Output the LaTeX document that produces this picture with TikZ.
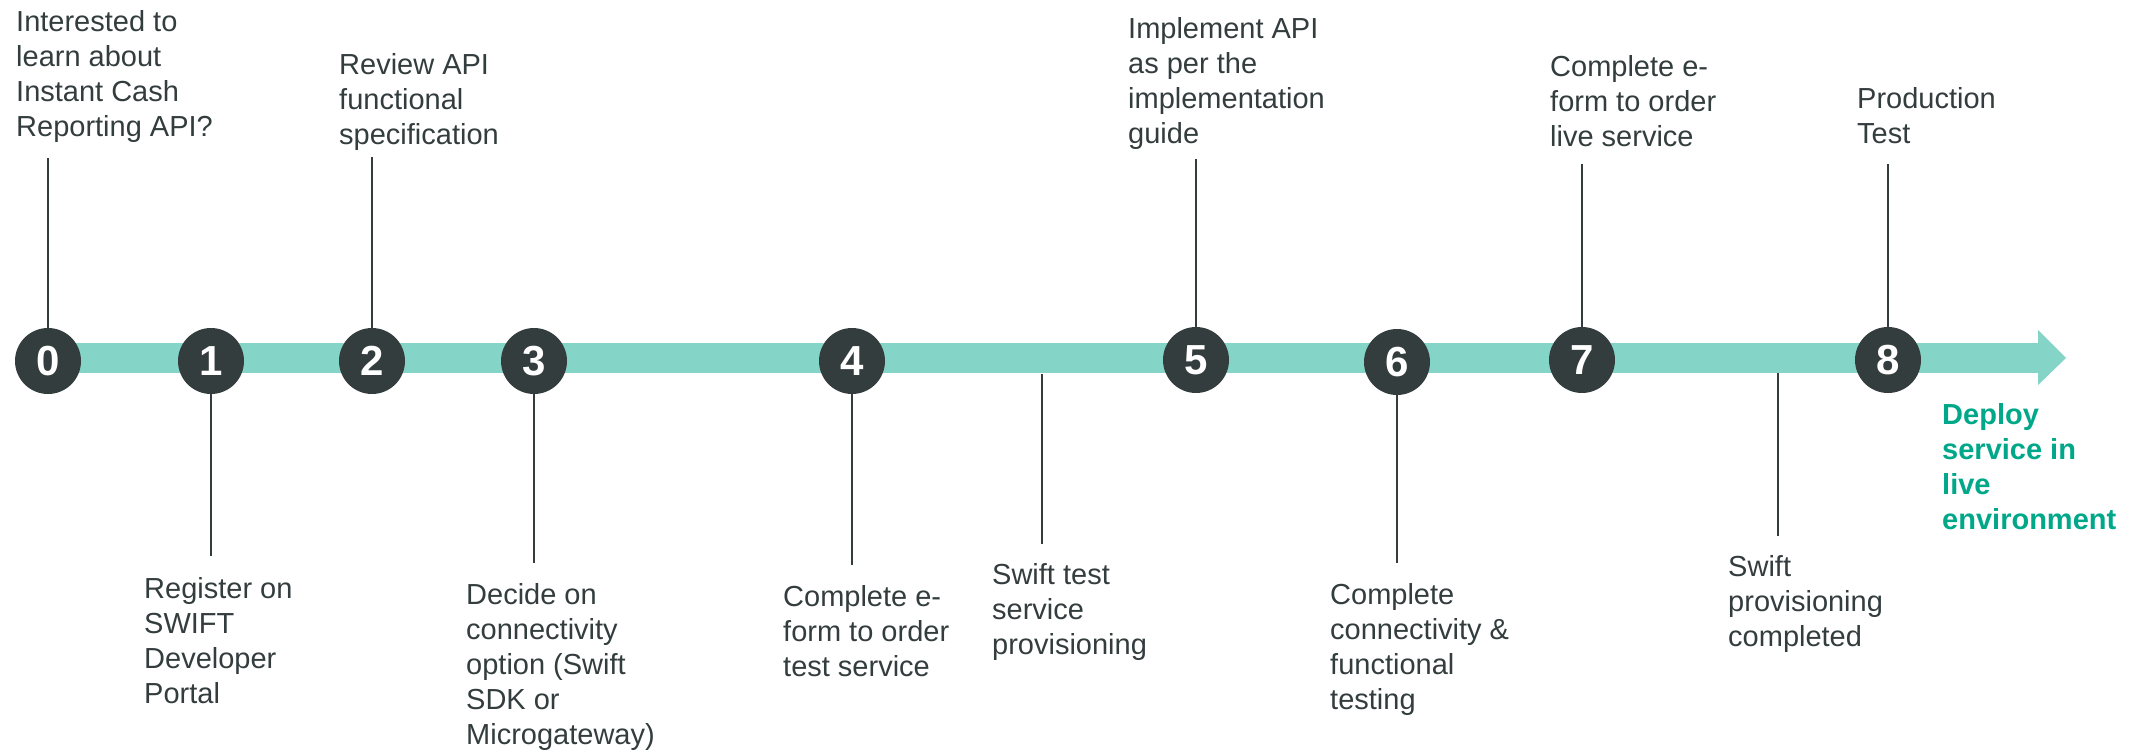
\documentclass[tikz,border=0pt]{standalone}
\usepackage{fontspec}
\setmainfont{Liberation Sans}
\definecolor{ink}{RGB}{52,61,62}
\definecolor{band}{RGB}{132,212,199}
\definecolor{deploy}{RGB}{0,168,137}
\begin{document}
\begin{tikzpicture}[x=1pt,y=-1pt,
  milestone/.style={circle,fill=ink,text=white,minimum size=66pt,inner sep=0pt,
    font=\fontsize{42}{42}\selectfont\bfseries},
  label/.style={anchor=north west,inner sep=0pt,align=left,text=ink,
    font=\fontsize{29}{35}\selectfont},
  goal/.style={anchor=north west,inner sep=0pt,align=left,text=deploy,
    font=\fontsize{29}{35}\selectfont\bfseries},
  stem/.style={draw=ink,line width=1.4pt}]
\useasboundingbox (0,0) rectangle (2129,751);

% timeline band with arrow head
\coordinate (bandstart) at (48,358);
\coordinate (bandend) at (2038,358);
\coordinate (tip) at (2066,358);

% free ends of the stems
\coordinate (e0) at (48,158);
\coordinate (e1) at (211,556);
\coordinate (e2) at (372,157);
\coordinate (e3) at (534,563);
\coordinate (e4) at (852,565);
\coordinate (sa) at (1042,374);
\coordinate (sb) at (1042,544);
\coordinate (e5) at (1196,159);
\coordinate (e6) at (1397,563);
\coordinate (e7) at (1582,164);
\coordinate (e8) at (1888,164);
\coordinate (pa) at (1778,368);
\coordinate (pb) at (1778,536);

% stems that start on the band
\draw[stem] (sa) -- (sb);
\draw[stem] (pa) -- (pb);

\fill[band] ([yshift=-14.5pt]bandstart) rectangle ([yshift=14.5pt]bandend);
\fill[band] ([yshift=-27pt]bandend) -- (tip) -- ([yshift=28pt]bandend) -- cycle;

% milestones
\node[milestone] (c0) at (48,361) {0};
\node[milestone] (c1) at (211,361) {1};
\node[milestone] (c2) at (372,361) {2};
\node[milestone] (c3) at (534,361) {3};
\node[milestone] (c4) at (852,361) {4};
\node[milestone] (c5) at (1196,360) {5};
\node[milestone] (c6) at (1397,362) {6};
\node[milestone] (c7) at (1582,360) {7};
\node[milestone] (c8) at (1888,360) {8};

\draw[stem] (c0.north) -- (e0);
\draw[stem] (c1.south) -- (e1);
\draw[stem] (c2.north) -- (e2);
\draw[stem] (c3.south) -- (e3);
\draw[stem] (c4.south) -- (e4);
\draw[stem] (c5.north) -- (e5);
\draw[stem] (c6.south) -- (e6);
\draw[stem] (c7.north) -- (e7);
\draw[stem] (c8.north) -- (e8);

% step descriptions
\node[label] (t0) at (16,10) {Interested to\\learn about\\Instant Cash\\Reporting API?};
\node[label] (t1) at (144,577) {Register on\\SWIFT\\Developer\\Portal};
\node[label] (t2) at (339,53) {Review API\\functional\\specification};
\node[label] (t3) at (466,583) {Decide on\\connectivity\\option (Swift\\SDK or\\Microgateway)};
\node[label] (t4) at (783,585) {Complete e-\\form to order\\test service};
\node[label] (ts) at (992,563) {Swift test\\service\\provisioning};
\node[label] (t5) at (1128,17) {Implement API\\as per the\\implementation\\guide};
\node[label] (t6) at (1330,583) {Complete\\connectivity \&\\functional\\testing};
\node[label] (t7) at (1550,55) {Complete e-\\form to order\\live service};
\node[label] (t8) at (1857,87) {Production\\Test};
\node[label] (tp) at (1728,555) {Swift\\provisioning\\completed};
\node[goal] (td) at (1942,403) {Deploy\\service in\\live\\environment};
\end{tikzpicture}
\end{document}
